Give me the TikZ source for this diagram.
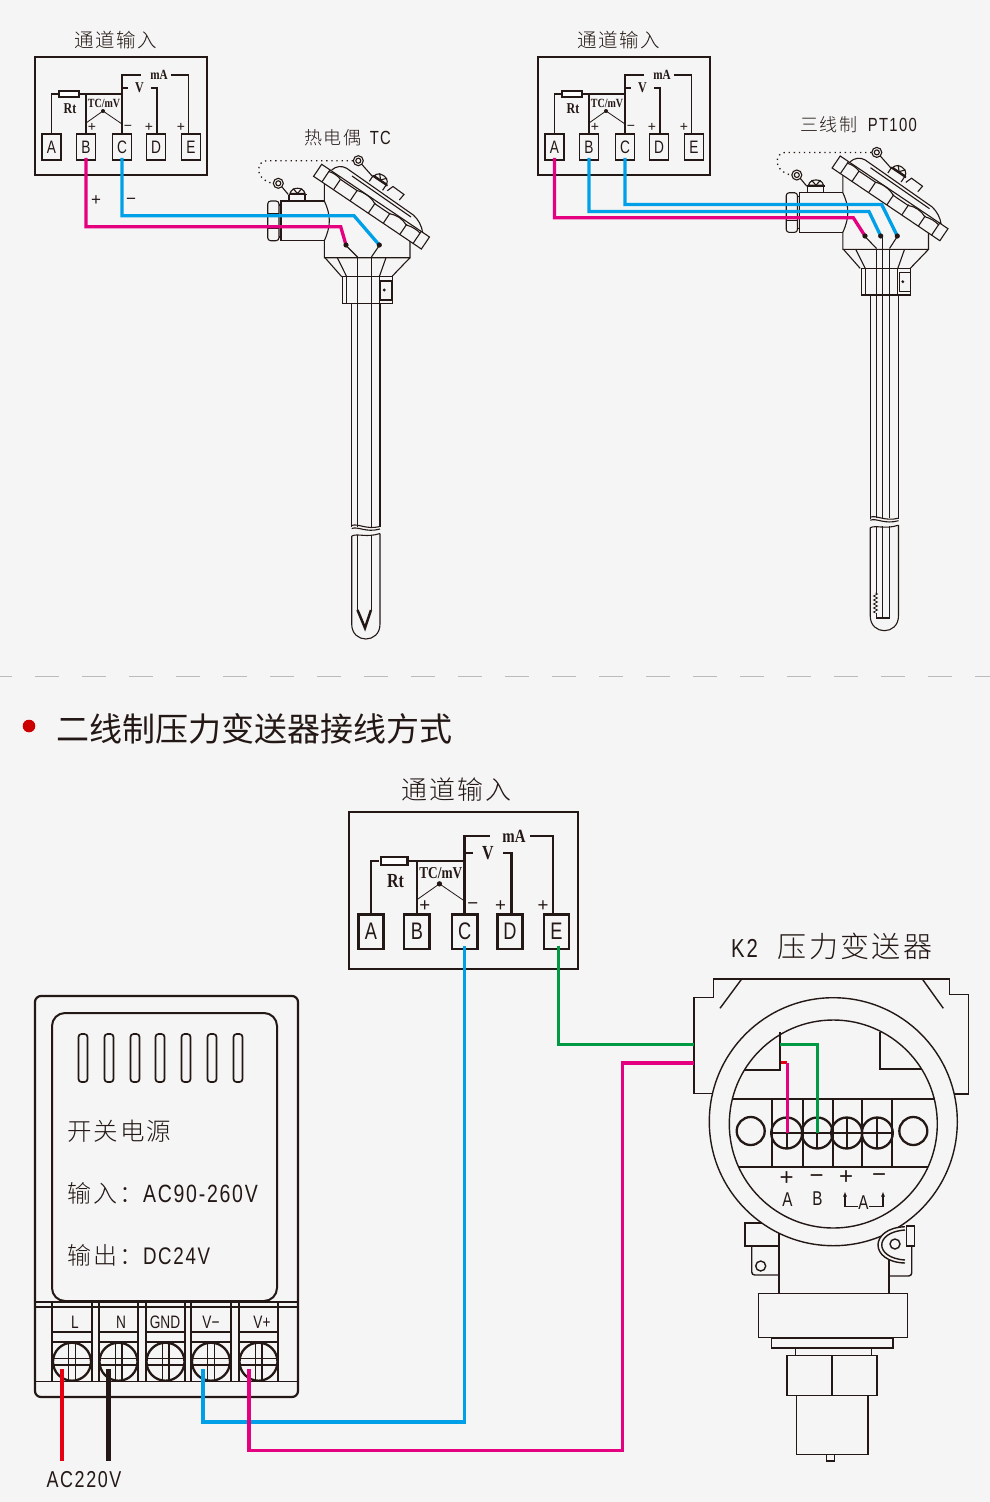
\documentclass[tikz,border=0pt]{standalone}
\usepackage{fontspec}
\usepackage{xcolor}
\setmainfont{Liberation Sans}
\newfontfamily\cjk[LetterSpace=8]{Noto Sans CJK SC Light}
\newfontfamily\cjkhead{Noto Sans CJK SC}
\newfontfamily\narrowfont[FakeStretch=0.76]{Liberation Sans}
\newfontfamily\wordfont[FakeStretch=0.78, LetterSpace=7]{Liberation Sans}
\newfontfamily\serifcond[FakeStretch=0.8]{Liberation Serif}
\usetikzlibrary{positioning,calc,arrows.meta,decorations.pathmorphing}

\definecolor{ink}{HTML}{231815}
\definecolor{pagebg}{HTML}{F5F5F5}
\definecolor{wirepinkc}{HTML}{E5007F}
\definecolor{wirebluec}{HTML}{00A0E9}
\definecolor{wiregreenc}{HTML}{009944}
\definecolor{wireredc}{HTML}{E60012}
\definecolor{dashgray}{HTML}{BBBBBB}

\newcommand{\fs}[1]{\fontsize{#1}{#1}\selectfont}

\tikzset{
    wirepink/.style={draw=wirepinkc, line width=3.3pt},
    wireblue/.style={draw=wirebluec, line width=3.3pt},
    wiregreen/.style={draw=wiregreenc, line width=3.3pt},
    part/.style={draw=ink, line width=1.1pt},
    heavy/.style={draw=ink, line width=2.3pt},
    labeltext/.style={text=ink, inner sep=0pt},
    termbox/.style={draw=ink, text=ink, minimum width=19pt, minimum height=26pt, inner sep=0pt, font=\narrowfont\fs{18}},
    signtext/.style={text=ink, inner sep=0pt, font=\fs{14}},
    screwcap/.pic={
        \draw[part, fill=pagebg] (-7.5,-1) .. controls (-6,-8) and (6,-8) .. (7.5,-1) -- cycle;
        \draw[part] (-4.5,-6) -- (0,-1) -- (4.5,-6);
        \draw[draw=ink, line width=1.8pt] (-9,0) -- (9,0);
        \draw[part] (-8.5,0) -- (-8.5,6.5) (7.5,0) -- (7.5,6.5);
    },
    % input block, origin at its top left corner
    chanbox/.pic={
        \tikzset{chanline/.style={draw=ink, line width=#1}}
        \draw[chanline] (0,0) rectangle (172,118);
        \node[labeltext, font=\cjk\fs{19.5}] (title) at (81,-17) {通道输入};
        \foreach \x/\t in {16.5/A,51/B,87/C,121/D,156/E}
            \node[termbox, line width=#1] (t\t) at (\x,90) {\t};
        \node[draw=ink, line width=#1, fill=white, minimum width=20pt, minimum height=6pt, inner sep=0pt] (rbox) at (34,37) {};
        \node[labeltext, font=\serifcond\bfseries\fs{15}] (lblRt) at (35,52) {Rt};
        \node[labeltext, font=\serifcond\bfseries\fs{12.5}] (lblTC) at (69,46) {TC/mV};
        \node[labeltext, font=\serifcond\bfseries\fs{14}] (lblmA) at (124,18) {mA};
        \node[labeltext, font=\serifcond\bfseries\fs{15}] (lblV) at (104.5,31) {V};
        \coordinate (jB) at (51,37);
        \coordinate (jC) at (87,37);
        \coordinate (topC) at (87,18);
        \coordinate (midC) at (87,31);
        \coordinate (topE) at (153.5,18);
        \coordinate (topD) at (122,31);
        \coordinate (tcdot) at (68,54);
        % Rt branch
        \draw[chanline] (tA.north) |- (rbox.west);
        \draw[chanline] (rbox.east) -- (jC);
        \draw[chanline] (tB.north) -- (jB);
        % common rail
        \draw[chanline] (tC.north) -- (topC) -- ([xshift=-9pt]lblmA.west);
        \draw[chanline] ([xshift=3pt]lblmA.east) -- (topE) -- (topE |- tE.north);
        \draw[chanline] (midC) -- ([xshift=-7pt]lblV.west);
        \draw[chanline] ([xshift=7pt]lblV.east) -- (topD) -- (topD |- tD.north);
        % TC junction
        \fill[ink] (tcdot) circle (2pt);
        \draw[draw=ink, line width=0.8pt] (51,66) -- (tcdot) -- (87,67);
        \node[signtext] (sgnB) at (57,70.5) {+};
        \node[signtext] (sgnC) at (93,70.5) {−};
        \node[signtext] (sgnD) at (114,70.5) {+};
        \node[signtext] (sgnE) at (146,70.5) {+};
    },
    % terminal head and sheath, drawn at the left hand position
    tchead/.pic={
        % side pipe and nut
        \draw[part] (324.3,201) -- (281,201) -- (281,240.7) -- (324.3,240.7);
        \draw[part, rounded corners=3pt] (267.7,201) rectangle (279,240.7);
        \draw[part] (267.7,213.5) -- (279,213.5) (267.7,228.5) -- (279,228.5);
        \draw[part] (279,205) -- (281,205) (279,237) -- (281,237);
        % body
        \draw[part] (324.3,183) -- (324.3,201) .. controls (331,215) and (331,226) .. (324.3,240.7) -- (324.3,257.7) -- (410,257.7) -- (410,240);
        % neck and collar
        \draw[part] (325,257.7) -- (341.7,276.7) (337.3,257.7) -- (346.7,276.7);
        \draw[part] (410,257.7) -- (391.7,276.7) (386,257.7) -- (379.3,276.7);
        \draw[part] (342.7,276.7) rectangle (392.3,303.3);
        \draw[part] (346.7,276.7) -- (346.7,303.3) (379.3,276.7) -- (379.3,303.3);
        \draw[part] (380.7,281) rectangle (391.7,300);
        \fill[ink] (384.3,290) circle (1.6pt);
        % sheath
        \draw[part] (351.7,303.3) -- (351.7,527) (380,303.3) -- (380,527);
        \draw[part] (351.7,525.5) .. controls (358,523) and (366,530) .. (380,526.5);
        \draw[part] (351.7,528.5) .. controls (358,526) and (366,533) .. (380,529);
        \draw[part] (351.7,536) .. controls (358,533) and (366,538) .. (380,533.5);
        \draw[part] (351.7,536) -- (351.7,624) .. controls (351.7,644) and (380,644) .. (380,624) -- (380,533.5);
        % lid
        \draw[part] (331.7,170) .. controls (336,166) and (342,165.5) .. (346.7,168.3) -- (413.3,215) .. controls (418,219) and (422,226) .. (422.7,233);
        \draw[part] (352,176) -- (411,217);
        \draw[part, fill=pagebg] (387.3,190.7) -- (393,186.5) -- (404,194.5) -- (399.3,200);
        \begin{scope}[shift={(321.7,164.3)}, rotate=-34]
            \draw[part, fill=pagebg] (0,0) rectangle (130,14.5);
            \draw[part] (10,0) -- (10,14.5) (120,0) -- (120,14.5);
            \foreach \a in {24,44,66,84,104}
                \draw[part] (\a,2) -- (\a,14.5);
            \draw[part] (10,2) .. controls (14,0.5) and (20,0.5) .. (24,2) -- (44,2) .. controls (50,-0.5) and (60,-0.5) .. (66,3) -- (84,3) .. controls (90,0) and (98,0) .. (104,3) .. controls (110,1) and (116,1) .. (120,2);
        \end{scope}
        % lugs, rings and the dotted chain
        \pic[rotate=-34] at (380,180.7) {screwcap};
        \pic at (297.5,194.5) {screwcap};
        \draw[part] (282,187) -- (288.3,194.5) (361.5,164) -- (373,177);
        \draw[part] (278.3,183.3) circle (5pt) (278.3,183.3) circle (2.5pt);
        \draw[part] (358.3,160.7) circle (5pt) (358.3,160.7) circle (2.5pt);
        \draw[draw=ink, line width=1.3pt, dash pattern=on 1.3pt off 3.8pt] (353,160.7) -- (266.7,160.7) .. controls (257,160.7) and (253,178) .. (272,183.3);
    }
}

\begin{document}
\begin{tikzpicture}[x=1pt, y=-1pt]
    \useasboundingbox (0,0) rectangle (990,1502);
    \fill[pagebg] (0,0) rectangle (990,1502);

    % Upper diagrams
    \pic (chanA-) [shift={(35,57)}] {chanbox=1.9pt};
    \pic (chanB-) [shift={(538,57)}] {chanbox=1.9pt};
    \pic at (0,0) {tchead};
    \pic [shift={(518.5,-8.3)}] {tchead};
    \node[labeltext, anchor=west] (tcname) at (304,137.5) {{\cjk\fs{18}热电偶} \hspace{6pt}{\wordfont\fs{19}TC}};
    \node[labeltext, anchor=west] (ptname) at (800,125) {{\cjk\fs{18}三线制} \hspace{8pt}{\wordfont\fs{19}PT100}};

    % Thermocouple inner wires
    \draw[part] (357.5,257) -- (357.5,527) (371.4,257) -- (371.4,527);
    \draw[part] (357.5,534.5) -- (357.5,610) (371.4,534.5) -- (371.4,610);
    \draw[part] (357.5,257) -- (346,245.5) (371.4,257) -- (379.3,245.5);
    \draw[draw=ink, line width=2.5pt] (357.5,610) -- (365,628) -- (371,610);
    \coordinate (dotTCp) at (346,245);
    \coordinate (dotTCn) at (379.3,245);
    \coordinate (bendTCp) at (340.7,226.7);
    \coordinate (bendTCn) at (354,215.7);
    \draw[wirepink] ([yshift=3pt]chanA-tB.south) |- (bendTCp) -- (dotTCp);
    \draw[wireblue] ([yshift=3pt]chanA-tC.south) |- (bendTCn) -- (dotTCn);
    \fill[ink] (dotTCp) circle (2.6pt);
    \fill[ink] (dotTCn) circle (2.6pt);
    \node[labeltext, font=\fs{17}] (plusTC) at (96,201) {+};
    \node[labeltext, font=\fs{17}] (minusTC) at (131,201) {−};

    % PT100 inner wires
    \foreach \x in {876.5,882.7,889.5}
        \draw[part] (\x,248.5) -- (\x,518);
    \draw[part] (882.7,236) -- (882.7,249);
    \draw[part] (876.5,248.5) -- (865,236.5) (889.5,248.5) -- (897.3,236.5);
    \foreach \x in {882.7,889.5}
        \draw[part] (\x,526) -- (\x,618);
    \draw[part] (876.5,526) -- (876.5,593);
    \draw[draw=ink, line width=0.8pt, decorate, decoration={zigzag, amplitude=2pt, segment length=4pt}] (875.5,593) -- (875.5,613);
    \draw[part] (876.5,613) -- (876.5,618) -- (889.5,618);
    \coordinate (dotPTa) at (865,236);
    \coordinate (dotPTb) at (880.7,236);
    \coordinate (dotPTc) at (897.3,236);
    \coordinate (bendPTa) at (853.3,217.7);
    \coordinate (bendPTb) at (869,211.5);
    \coordinate (bendPTc) at (881.7,204.5);
    \draw[wirepink] ([yshift=3pt]chanB-tA.south) |- (bendPTa) -- (dotPTa);
    \draw[wireblue] ([yshift=3pt]chanB-tB.south) |- (bendPTb) -- (dotPTb);
    \draw[wireblue] ([yshift=3pt]chanB-tC.south) |- (bendPTc) -- (dotPTc);
    \fill[ink] (dotPTa) circle (2.6pt);
    \fill[ink] (dotPTb) circle (2.6pt);
    \fill[ink] (dotPTc) circle (2.6pt);

    % Divider and heading
    \draw[draw=dashgray, line width=1.3pt, dash pattern=on 24pt off 23pt, dash phase=12pt] (0,676.7) -- (990,676.7);
    \fill[red!80!black] (29,726) circle (6.3pt);
    \node[labeltext, anchor=west, font=\cjkhead\fs{33}] (heading) at (56,729) {二线制压力变送器接线方式};

    % Lower input block
    \pic (chanC-) [shift={(349,812)}, scale=1.33, transform shape] {chanbox=2.5pt};

    % Power supply
    \draw[draw=ink, line width=2.2pt, rounded corners=6pt] (35,996) rectangle (298,1397);
    \draw[draw=ink, line width=2pt, rounded corners=13pt] (52,1013) rectangle (277,1301);
    \foreach \x in {83,109,135,160,186,212,238}
        \draw[draw=ink, line width=1.7pt, rounded corners=3pt] (\x-4.5,1034) rectangle (\x+4.5,1082);
    \node[labeltext, anchor=west, font=\cjk\fs{24.5}] (psuName) at (67,1131) {开关电源};
    \node[labeltext, anchor=west] (psuIn) at (67,1193) {{\cjk\fs{24}输入：}{\wordfont\fs{25}AC90-260V}};
    \node[labeltext, anchor=west] (psuOut) at (67,1255) {{\cjk\fs{24}输出：}{\wordfont\fs{24}DC24V}};
    % Terminal strip
    \draw[draw=ink, line width=1.3pt] (35,1302) -- (298,1302);
    \draw[draw=ink, line width=2.4pt] (35,1306.7) -- (298,1306.7);
    \draw[draw=ink, line width=1.5pt] (35,1381.7) -- (298,1381.7);
    \foreach \x/\lx/\t/\nm in {72/75/L/L,118.5/121/N/N,165.5/165/GND/G,211/211/V−/Vm,258.5/262/V+/Vp} {
        \draw[heavy] (\x-19.7,1302) -- (\x-19.7,1381.7) (\x+19.7,1302) -- (\x+19.7,1381.7);
        \draw[heavy] (\x-19.7,1331.7) -- (\x+19.7,1331.7);
        \draw[draw=ink, line width=1.6pt] (\x-19.7,1341.7) -- (\x+19.7,1341.7);
        \draw[draw=ink, line width=1.4pt] (\x-19.7,1358.3) -- (\x+19.7,1358.3) (\x-19.7,1365) -- (\x+19.7,1365);
        \draw[draw=ink, line width=1.4pt] (\x-3.3,1341.7) -- (\x-3.3,1381.7) (\x+3.3,1341.7) -- (\x+3.3,1381.7);
        \draw[heavy] (\x,1361.7) circle (19pt);
        \node[labeltext, font=\narrowfont\fs{18}] (lbl\nm) at (\lx,1322) {\t};
    }
    \coordinate (scrL) at (62,1369);
    \coordinate (scrN) at (108.3,1369);
    \coordinate (scrVm) at (203,1369);
    \coordinate (scrVp) at (249,1369);
    \coordinate (endL) at (62,1461);
    \coordinate (endN) at (108.3,1461);
    \node[labeltext, font=\wordfont\fs{23}] (acname) at (84,1480) {AC220V};
    \draw[draw=wireredc, line width=4.8pt] (scrL) -- (endL);
    \draw[draw=ink, line width=4.8pt] (scrN) -- (endN);

    % Transmitter lower part
    \draw[part, line width=1.4pt] (779,1230) -- (779,1293.3) (889,1250) -- (889,1293.3);
    \draw[part, line width=1.4pt] (745,1223) rectangle (779,1246);
    \draw[part, line width=1.4pt, rounded corners=3pt] (751.7,1246) -- (751.7,1275) -- (779,1275);
    \draw[part, line width=1.4pt] (760.7,1266) circle (5pt);
    \draw[part, line width=1.4pt, rounded corners=3pt] (911.7,1246) -- (911.7,1276) -- (889,1276);
    \draw[part, line width=1.4pt] (758.3,1293.3) rectangle (907.7,1337.7);
    \draw[part, line width=1.4pt] (771.7,1338.3) rectangle (893,1348);
    \draw[part, line width=1.4pt] (795.7,1348.3) rectangle (871.3,1355.3);
    \draw[part, line width=1.4pt] (787,1355.3) rectangle (877,1395.3);
    \draw[part, line width=1.4pt] (832,1355.3) -- (832,1395.3);
    \draw[part, line width=1.4pt] (796.7,1395.3) rectangle (868,1454.3);
    \draw[part, line width=1.4pt] (826.3,1454.3) rectangle (834.7,1461);
    % Transmitter case
    \draw[part, line width=1.4pt] (694,1093.5) -- (694,997.3) -- (713.3,997.3) -- (713.3,979) -- (949.3,979) -- (949.3,994.3) -- (968.3,994.3) -- (968.3,1094) -- (950,1094);
    \draw[part, line width=1.4pt] (694,1093.5) -- (716,1093.5);
    \draw[part, line width=1.4pt] (741.7,979) -- (720,1008.3) (922.3,979) -- (943.3,1008.3);
    \draw[part, line width=1.4pt, fill=pagebg] (833.3,1121.7) circle (124pt);
    \draw[part, line width=1.4pt] (833.3,1124) circle (104pt);
    \draw[part, line width=1.4pt] (780,1032) -- (780,1070) -- (743.5,1070);
    \draw[part, line width=1.4pt] (880,1032) -- (880,1069) -- (920.5,1069);
    % Transmitter screw at the right
    \draw[part, line width=1.4pt, fill=pagebg] (905,1226.7) .. controls (869,1228) and (869,1262) .. (905,1263);
    \draw[part, line width=1.4pt] (905,1230) .. controls (874,1232) and (874,1258) .. (905,1260);
    \draw[part, line width=1.4pt] (895,1244) circle (5pt);
    \draw[part, line width=1.4pt, fill=pagebg] (906.7,1226) rectangle (914.3,1246);
    % Transmitter terminals
    \draw[heavy] (731.7,1099.3) -- (934,1099.3) (738,1166.7) -- (928,1166.7);
    \foreach \x in {771.7,802.7,833.3,861.7,892.3}
        \draw[heavy] (\x,1099.3) -- (\x,1166.7);
    \draw[heavy] (750.7,1131) circle (14pt) (913.3,1131) circle (14pt);
    \foreach \x in {786.7,817.3,846.7,877.3} {
        \draw[heavy] (\x,1133) circle (15.5pt);
        \draw[draw=ink, line width=1.9pt] (\x,1117) -- (\x,1149);
    }
    \draw[draw=ink, line width=1.9pt] (773,1133) -- (892,1133);
    \node[labeltext, font=\narrowfont\fs{20}] (markA) at (787.5,1200) {A};
    \node[labeltext, font=\narrowfont\fs{20}] (markB) at (817.5,1199) {B};
    \node[labeltext, font=\narrowfont\fs{20}] (markI) at (863.5,1202.5) {A};
    \node[labeltext, font=\fs{24}] (plusA) at (786.5,1179) {+};
    \node[labeltext, font=\fs{24}] (minusB) at (816.5,1179) {−};
    \node[labeltext, font=\fs{24}] (plusI) at (846,1178) {+};
    \node[labeltext, font=\fs{24}] (minusI) at (879,1178) {−};
    \coordinate (arrL) at (845,1191.5);
    \coordinate (arrR) at (883,1191.5);
    \coordinate (elbowL) at (845,1206.7);
    \coordinate (elbowR) at (883,1206.7);
    \draw[draw=ink, line width=1.1pt, -{Latex[length=5pt,width=4pt]}] (markI.west |- elbowL) -- (elbowL) -- (arrL);
    \draw[draw=ink, line width=1.1pt, -{Latex[length=5pt,width=4pt]}] (markI.east |- elbowR) -- (elbowR) -- (arrR);
    \node[labeltext, anchor=west] (k2name) at (731,946.5) {{\wordfont\fs{26}K2}\hspace{20pt}{\cjk\fs{29}压力变送器}};

    % Lower wiring
    \coordinate (blueCorner) at (203,1422);
    \coordinate (pinkCorner) at (622.5,1450.7);
    \coordinate (pinkEnter) at (694,1063);
    \coordinate (greenEnter) at (694,1044.3);
    \coordinate (greenIn) at (780,1044.3);
    \coordinate (pinkIn) at (780.7,1062.5);
    \coordinate (pinkDown) at (787.3,1062.5);
    \coordinate (screwA) at (787.3,1133);
    \coordinate (screwB) at (817.7,1133);
    \draw[wireblue] (scrVm) |- (blueCorner -| chanC-tC.south) -- ([yshift=5pt]chanC-tC.south);
    \draw[wirepink] (scrVp) |- (pinkCorner) -- (pinkCorner |- pinkEnter) -- (pinkEnter);
    \draw[wiregreen] ([xshift=2pt,yshift=5pt]chanC-tE.south) |- (greenEnter);
    \draw[wiregreen] (greenIn) -| (screwB);
    \draw[draw=wireredc, line width=3.3pt] (pinkIn) -- (pinkDown);
    \draw[wirepink] (pinkDown) -- (screwA);
\end{tikzpicture}
\end{document}
